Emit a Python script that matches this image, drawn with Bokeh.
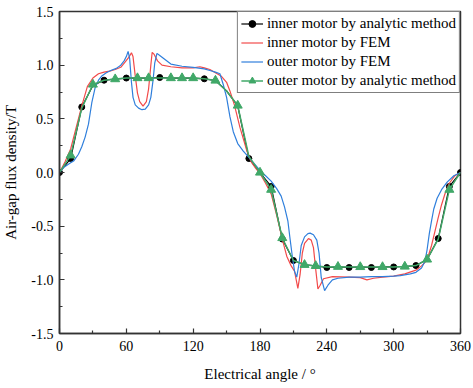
from bokeh.plotting import figure
from bokeh.models import Range1d, FixedTicker, PrintfTickFormatter, ColumnDataSource
from bokeh.embed import file_html
from bokeh.resources import INLINE

# ---------------- data ----------------
angles = [0, 10, 20, 30, 40, 50, 60, 70, 80, 90, 100, 110, 120, 130, 140, 150, 160, 170, 180,
          190, 200, 210, 220, 230, 240, 250, 260, 270, 280, 290, 300, 310, 320, 330, 340, 350, 360]
inner_analytic = [0, 0.13, 0.61, 0.81, 0.86, 0.87, 0.88, 0.88, 0.88, 0.885, 0.88, 0.88, 0.88, 0.873,
                  0.857, 0.76, 0.62, 0.13, 0.0, -0.13, -0.62, -0.82, -0.86, -0.87, -0.885, -0.88,
                  -0.885, -0.88, -0.885, -0.88, -0.88, -0.876, -0.867, -0.81, -0.615, -0.13, 0]
outer_analytic = [0, 0.16, 0.60, 0.82, 0.86, 0.87, 0.88, 0.88, 0.88, 0.88, 0.88, 0.88, 0.88, 0.873,
                  0.857, 0.76, 0.624, 0.15, 0.0, -0.16, -0.61, -0.82, -0.86, -0.87, -0.88, -0.878,
                  -0.88, -0.88, -0.88, -0.88, -0.88, -0.876, -0.867, -0.81, -0.62, -0.16, 0]
inner_marker_angles = [0, 10, 20, 40, 60, 90, 130, 170, 190, 200, 210, 240, 260, 280, 300, 320, 340, 350, 360]
outer_marker_angles = [10, 30, 50, 70, 80, 100, 110, 120, 140, 160, 180, 190, 200, 220, 230, 250,
                       270, 290, 310, 330, 350]

inner_fem_x = [0, 5, 10, 15, 20, 25, 30, 35, 40, 45, 50, 55, 59, 62, 64.6, 66, 68, 70, 72, 75, 78,
               80, 82, 83.2, 85, 88, 92, 100, 110, 120, 126, 130, 135, 140, 145, 150, 153, 157, 162,
               168, 172, 176, 180, 185, 190, 195, 200, 204, 208, 211, 214, 216, 218, 220, 223.5,
               226, 228, 230, 232, 234, 237, 245, 260, 270, 276, 282, 290, 300, 310, 320, 325,
               328, 331, 334, 337, 340, 343, 346, 350, 355, 360]
inner_fem_y = [0, 0.10, 0.22, 0.42, 0.62, 0.80, 0.88, 0.92, 0.935, 0.945, 0.96, 0.98, 1.03, 1.07,
               1.115, 1.08, 0.90, 0.74, 0.66, 0.618, 0.66, 0.78, 1.0, 1.12, 1.10, 1.04, 1.00,
               0.985, 0.975, 0.975, 0.985, 0.975, 0.96, 0.93, 0.90, 0.84, 0.76, 0.63, 0.42, 0.21,
               0.10, 0.04, -0.01, -0.10, -0.20, -0.40, -0.62, -0.78, -0.87, -0.92, -1.08, -0.95,
               -0.75, -0.66, -0.615, -0.63, -0.70, -0.90, -1.085, -1.05, -0.99, -0.97, -0.975,
               -0.98, -1.0, -0.985, -0.975, -0.965, -0.945, -0.91, -0.87, -0.84, -0.78, -0.68,
               -0.55, -0.42, -0.30, -0.20, -0.10, -0.03, 0]

outer_fem_x = [0, 4, 10, 13, 17, 20, 23, 26, 29, 32, 35, 38, 42, 46, 51, 55, 58, 60, 61.6, 63, 64.5,
               66, 68, 71, 74, 77, 80, 82, 84, 85.5, 87.5, 90, 95, 100, 110, 120, 130, 135, 140,
               144, 147, 150, 153, 156, 160, 165, 170, 175, 180, 185, 190, 195, 199, 202, 205,
               207, 209, 211, 213, 215, 217, 220, 223, 225, 228, 231, 233, 235, 238, 241, 245,
               250, 260, 270, 280, 290, 300, 306, 315, 320, 325, 328, 330, 332, 334, 336, 339,
               343, 348, 354, 360]
outer_fem_y = [0, 0.05, 0.09, 0.11, 0.17, 0.24, 0.33, 0.45, 0.65, 0.79, 0.86, 0.90, 0.93, 0.95,
               0.97, 1.0, 1.04, 1.08, 1.128, 1.06, 0.85, 0.70, 0.63, 0.60, 0.585, 0.59, 0.63,
               0.70, 0.86, 1.02, 1.11, 1.09, 1.05, 1.01, 0.99, 0.98, 0.965, 0.95, 0.935, 0.92,
               0.82, 0.70, 0.52, 0.38, 0.27, 0.20, 0.14, 0.08, 0.02, -0.03, -0.08, -0.15, -0.22,
               -0.32, -0.45, -0.62, -0.78, -0.92, -0.975, -0.85, -0.68, -0.60, -0.57, -0.565,
               -0.58, -0.63, -0.75, -0.98, -1.10, -1.05, -1.0, -0.985, -0.975, -0.975, -0.97,
               -0.97, -0.965, -0.96, -0.945, -0.93, -0.89, -0.83, -0.72, -0.57, -0.45, -0.34,
               -0.24, -0.16, -0.09, -0.03, 0]

x_ticks = [0, 60, 120, 180, 240, 300, 360]
x_minor = [30, 90, 150, 210, 270, 330]
y_ticks = [-1.5, -1.0, -0.5, 0.0, 0.5, 1.0, 1.5]
y_minor = [-1.25, -0.75, -0.25, 0.25, 0.75, 1.25]

labels = ["inner motor by analytic method", "inner motor by FEM",
          "outer motor by FEM", "outer motor by analytic method"]

# ---------------- figure ----------------
FONT = "Liberation Serif"
AX = "#333333"
RED = "#f24a4a"
BLUE = "#2f7fdc"
GREEN = "#40a868"

p = figure(width=473, height=388, x_range=Range1d(0, 360), y_range=Range1d(-1.5, 1.5),
           output_backend="svg", toolbar_location=None,
           min_border_left=59, min_border_right=13, min_border_top=11, min_border_bottom=55)
p.grid.visible = False
p.outline_line_color = AX
p.outline_line_width = 1.5
p.background_fill_color = "white"
p.border_fill_color = "white"

p.xaxis.ticker = FixedTicker(ticks=x_ticks, minor_ticks=x_minor)
p.yaxis.ticker = FixedTicker(ticks=y_ticks, minor_ticks=y_minor)
p.yaxis.formatter = PrintfTickFormatter(format="%.1f")
for ax in (p.xaxis[0], p.yaxis[0]):
    ax.axis_line_color = AX
    ax.axis_line_width = 1.5
    ax.major_tick_line_color = AX
    ax.minor_tick_line_color = AX
    ax.major_tick_line_width = 1.2
    ax.minor_tick_line_width = 1.2
    ax.major_tick_in = 5
    ax.major_tick_out = 0
    ax.minor_tick_in = 3
    ax.minor_tick_out = 0
    ax.major_label_text_font = FONT
    ax.major_label_text_font_size = "14px"
    ax.major_label_text_color = "black"
    ax.axis_label_text_font = FONT
    ax.axis_label_text_font_size = "15px"
    ax.axis_label_text_font_style = "normal"
    ax.axis_label_text_color = "black"
p.xaxis.axis_label = "Electrical angle / °"
p.yaxis.axis_label = "Air-gap flux density/T"
p.xaxis.major_label_standoff = 7
p.yaxis.major_label_standoff = 6
p.xaxis.axis_label_standoff = 12
p.yaxis.axis_label_standoff = 9

src_in = ColumnDataSource(dict(x=angles, y=inner_analytic))
src_out = ColumnDataSource(dict(x=angles, y=outer_analytic))
mk_in = ColumnDataSource(dict(x=inner_marker_angles,
                              y=[inner_analytic[angles.index(a)] for a in inner_marker_angles]))
mk_out = ColumnDataSource(dict(x=outer_marker_angles,
                               y=[outer_analytic[angles.index(a)] for a in outer_marker_angles]))

p.line("x", "y", source=src_in, color="black", line_width=1.2, legend_label=labels[0])
p.scatter("x", "y", source=mk_in, marker="circle", size=6, color="black", legend_label=labels[0])
p.line(inner_fem_x, inner_fem_y, color=RED, line_width=1.2, legend_label=labels[1])
p.line(outer_fem_x, outer_fem_y, color=BLUE, line_width=1.2, legend_label=labels[2])
p.line("x", "y", source=src_out, color=GREEN, line_width=1.5, legend_label=labels[3])
p.scatter("x", "y", source=mk_out, marker="triangle", size=9, color=GREEN, legend_label=labels[3])

lg = p.legend[0]
lg.location = "top_right"
lg.margin = 0
lg.padding = 3
lg.spacing = 2
lg.label_height = 17
lg.glyph_height = 17
lg.glyph_width = 22
lg.label_standoff = 4
lg.border_line_color = "black"
lg.border_line_width = 1
lg.label_text_font = FONT
lg.label_text_font_size = "15px"
lg.label_text_color = "black"
lg.background_fill_alpha = 1

open("out.html", "w").write(file_html(p, INLINE))
